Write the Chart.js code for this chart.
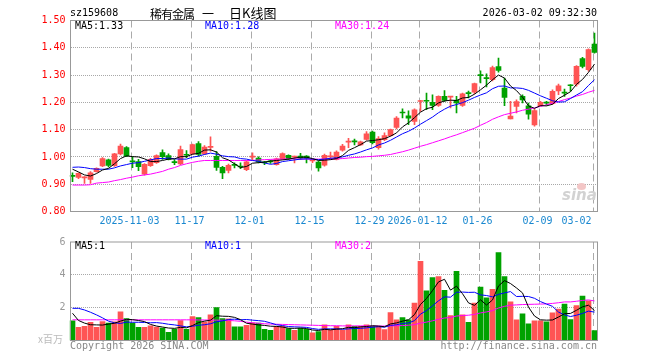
<!DOCTYPE html>
<html><head><meta charset="utf-8">
<script src="https://cdn.jsdelivr.net/npm/chart.js@4.4.1/dist/chart.umd.min.js"></script>
<style>
html,body{margin:0;padding:0;background:#fff;}
#wrap{position:relative;width:660px;height:360px;overflow:hidden;font-family:"DejaVu Sans Mono",monospace;font-size:10px;}
canvas{position:absolute;left:0;}
.t{position:absolute;white-space:pre;line-height:12px;}
.cn{position:absolute;white-space:pre;top:4px;font-family:'Noto Sans CJK SC';font-size:13px;line-height:17px;color:#000}
</style></head><body>
<div id="wrap">
<canvas id="k" width="660" height="232" style="top:0;width:660px;height:232px"></canvas>
<canvas id="v" width="660" height="128" style="top:232px;width:660px;height:128px"></canvas>
<div class="t" style="left:70px;top:7px;color:#000">sz159608</div>
<div class="cn" style="left:150px;font-size:12px;top:5px;letter-spacing:-1px">稀有金属</div>
<div class="cn" style="left:202px;font-size:12px;top:5px">一</div>
<div class="cn" style="left:229px">日K线图</div>
<div class="t" style="right:63px;top:7px;color:#000">2026-03-02 09:32:30</div>
<div class="t" style="left:75px;top:20px;color:#000">MA5:1.33</div>
<div class="t" style="left:205px;top:20px;color:#0000ff">MA10:1.28</div>
<div class="t" style="left:335px;top:20px;color:#ff00ff">MA30:1.24</div>
<div class="t" style="left:75px;top:240px;color:#000">MA5:1</div>
<div class="t" style="left:205px;top:240px;color:#0000ff">MA10:1</div>
<div class="t" style="left:335px;top:240px;color:#ff00ff">MA30:2</div>
<div class="t" style="left:38px;top:333px;color:#bbb;font-family:'Noto Sans CJK SC';font-size:10px;">x百万</div>
<div class="t" style="left:70px;top:340px;color:#888">Copyright 2026 SINA.COM</div>
<div class="t" style="right:63px;top:340px;color:#888">http://finance.sina.com.cn</div>
<div style="position:absolute;left:577px;top:183px;width:9px;height:7px;border-radius:50%;background:#f3c6c6"></div>
<div class="t" style="left:562px;top:186px;color:#d2d2d2;font-family:'DejaVu Sans';font-weight:bold;font-style:italic;font-size:15px;line-height:18px">sina</div>
</div>
<script>
const categories = [
'2025-10-20','2025-10-21','2025-10-22','2025-10-23','2025-10-24','2025-10-27','2025-10-28','2025-10-29','2025-10-30','2025-10-31',
'2025-11-03','2025-11-04','2025-11-05','2025-11-06','2025-11-07','2025-11-10','2025-11-11','2025-11-12','2025-11-13','2025-11-14',
'2025-11-17','2025-11-18','2025-11-19','2025-11-20','2025-11-21','2025-11-24','2025-11-25','2025-11-26','2025-11-27','2025-11-28',
'2025-12-01','2025-12-02','2025-12-03','2025-12-04','2025-12-05','2025-12-08','2025-12-09','2025-12-10','2025-12-11','2025-12-12',
'2025-12-15','2025-12-16','2025-12-17','2025-12-18','2025-12-19','2025-12-22','2025-12-23','2025-12-24','2025-12-25','2025-12-26',
'2025-12-29','2025-12-30','2025-12-31','2026-01-05','2026-01-06','2026-01-07','2026-01-08','2026-01-09',
'2026-01-12','2026-01-13','2026-01-14','2026-01-15','2026-01-16','2026-01-19','2026-01-20','2026-01-21','2026-01-22','2026-01-23',
'2026-01-26','2026-01-27','2026-01-28','2026-01-29','2026-01-30','2026-02-02','2026-02-03','2026-02-04','2026-02-05','2026-02-06',
'2026-02-09','2026-02-10','2026-02-11','2026-02-12','2026-02-13','2026-02-24','2026-02-25','2026-02-26','2026-02-27','2026-03-02'];
const tickDates = ['2025-11-03','2025-11-17','2025-12-01','2025-12-15','2025-12-29','2026-01-12','2026-01-26','2026-02-09','2026-03-02'];
const tickLabels = ['2025-11-03','11-17','12-01','12-15','12-29','2026-01-12','01-26','02-09','03-02     '];
const priceTicks = [0.8,0.9,1.0,1.1,1.2,1.3,1.4,1.5];
const volTicks = [0,2,4,6];

const open = [0.931,0.925,0.923,0.918,0.946,0.967,0.989,0.968,1.011,1.034,
0.984,0.983,0.937,0.968,0.979,1.016,1.005,0.981,0.974,1.007,
1.011,1.049,1.011,1.035,1.002,0.962,0.951,0.970,0.964,0.953,
0.999,0.996,0.979,0.983,0.972,0.992,1.006,0.999,1.003,1.003,
0.985,0.981,0.970,1.000,0.991,1.025,1.054,1.056,1.044,1.064,
1.091,1.034,1.063,1.078,1.108,1.162,1.151,1.130,1.203,1.205,
1.200,1.189,1.222,1.219,1.207,1.189,1.233,1.237,1.299,1.288,
1.283,1.331,1.252,1.139,1.185,1.222,1.187,1.117,1.188,1.198,
1.195,1.242,1.235,1.262,1.267,1.360,1.320,1.414];
const high = [0.942,0.942,0.928,0.946,0.960,0.998,0.992,1.013,1.047,1.038,
1.001,0.991,0.976,0.995,1.008,1.026,1.011,0.990,1.040,1.023,
1.047,1.056,1.042,1.074,1.020,0.966,0.974,0.978,0.978,0.986,
1.015,1.000,0.984,0.988,0.996,1.015,1.008,1.003,1.013,1.005,
0.991,0.985,1.010,1.018,1.022,1.046,1.068,1.065,1.058,1.093,
1.095,1.075,1.088,1.102,1.148,1.176,1.169,1.176,1.207,1.234,
1.228,1.224,1.243,1.222,1.222,1.234,1.241,1.271,1.316,1.305,
1.333,1.362,1.289,1.204,1.209,1.228,1.197,1.175,1.204,1.204,
1.246,1.267,1.249,1.265,1.335,1.365,1.396,1.454];
const low = [0.909,0.920,0.903,0.903,0.944,0.964,0.963,0.965,1.007,1.001,
0.961,0.950,0.933,0.965,0.976,0.991,0.989,0.972,0.972,0.997,
1.009,1.003,1.009,1.021,0.951,0.920,0.941,0.960,0.957,0.950,
0.990,0.978,0.972,0.976,0.970,0.990,0.990,0.978,0.991,0.978,
0.979,0.948,0.966,0.991,0.989,1.021,1.034,1.044,1.042,1.061,
1.048,1.028,1.060,1.076,1.103,1.143,1.118,1.118,1.167,1.173,
1.173,1.185,1.203,1.180,1.161,1.185,1.216,1.231,1.271,1.257,
1.279,1.311,1.188,1.139,1.161,1.198,1.138,1.113,1.186,1.190,
1.192,1.228,1.222,1.241,1.259,1.326,1.314,1.380];
const close = [0.929,0.940,0.925,0.942,0.958,0.994,0.969,1.011,1.040,1.004,
0.982,0.964,0.973,0.991,1.005,1.001,0.991,0.979,1.027,1.006,
1.045,1.009,1.036,1.036,0.962,0.941,0.969,0.969,0.963,0.982,
1.000,0.982,0.978,0.982,0.993,1.012,0.993,1.000,0.995,0.995,
0.986,0.960,1.006,1.001,1.018,1.040,1.055,1.055,1.055,1.085,
1.052,1.067,1.078,1.100,1.142,1.161,1.142,1.173,1.204,1.204,
1.189,1.222,1.207,1.220,1.198,1.231,1.232,1.269,1.298,1.287,
1.327,1.317,1.218,1.150,1.203,1.209,1.157,1.170,1.200,1.197,
1.240,1.261,1.234,1.261,1.332,1.332,1.393,1.383];
const ma5 = [0.955,0.945,0.934,0.930,0.939,0.952,0.958,0.975,0.994,1.004,
1.001,1.000,0.993,0.983,0.983,0.987,0.992,0.993,1.001,1.001,
1.010,1.013,1.025,1.026,1.018,0.997,0.989,0.975,0.961,0.965,
0.977,0.979,0.981,0.985,0.987,0.989,0.992,0.996,0.999,0.999,
0.994,0.987,0.988,0.990,0.994,1.005,1.024,1.034,1.045,1.058,
1.060,1.063,1.067,1.076,1.088,1.110,1.125,1.144,1.164,1.177,
1.182,1.198,1.205,1.208,1.207,1.216,1.218,1.230,1.246,1.263,
1.283,1.300,1.289,1.260,1.243,1.219,1.187,1.178,1.188,1.187,
1.193,1.214,1.226,1.239,1.266,1.284,1.310,1.340];
const ma10 = [0.962,0.963,0.961,0.957,0.955,0.955,0.955,0.960,0.967,0.972,
0.977,0.979,0.984,0.989,0.994,0.994,0.996,0.993,0.992,0.992,
0.999,1.003,1.009,1.014,1.010,1.004,1.001,1.000,0.994,0.992,
0.987,0.984,0.978,0.973,0.976,0.983,0.986,0.989,0.992,0.993,
0.992,0.990,0.992,0.995,0.997,1.000,1.006,1.011,1.018,1.026,
1.033,1.044,1.051,1.061,1.073,1.085,1.094,1.106,1.120,1.133,
1.146,1.162,1.175,1.186,1.192,1.199,1.208,1.218,1.227,1.235,
1.250,1.259,1.260,1.253,1.253,1.251,1.244,1.234,1.224,1.215,
1.206,1.201,1.202,1.214,1.227,1.239,1.262,1.283];
const ma30 = [0.897,0.897,0.897,0.898,0.904,0.906,0.908,0.913,0.917,0.922,
0.926,0.931,0.934,0.937,0.942,0.947,0.955,0.961,0.969,0.975,
0.980,0.984,0.987,0.987,0.987,0.987,0.987,0.987,0.987,0.987,
0.987,0.989,0.990,0.991,0.992,0.992,0.993,0.993,0.992,0.992,
0.992,0.992,0.992,0.993,0.993,0.994,0.996,0.998,0.999,1.001,
1.002,1.004,1.006,1.009,1.014,1.019,1.025,1.032,1.039,1.045,
1.052,1.059,1.066,1.074,1.081,1.089,1.097,1.105,1.116,1.126,
1.138,1.147,1.155,1.160,1.165,1.171,1.175,1.180,1.185,1.191,
1.197,1.203,1.210,1.216,1.223,1.229,1.237,1.244];
const volume = [1.20,0.80,0.86,1.10,0.80,1.16,1.06,1.14,1.74,1.34,
1.06,0.80,0.80,0.90,0.82,0.76,0.50,0.70,1.22,0.68,
1.46,1.40,1.12,1.56,2.00,1.34,1.32,0.84,0.84,0.92,
1.08,1.06,0.68,0.62,0.86,0.88,0.72,0.62,0.74,0.68,
0.46,0.54,0.96,0.62,0.86,0.62,0.96,0.86,0.86,0.96,
0.86,0.86,0.66,1.70,1.26,1.40,1.26,2.28,4.82,3.02,
3.84,3.90,3.06,1.52,4.22,1.56,1.10,2.28,3.26,2.60,
3.12,5.36,3.90,2.36,1.26,1.62,1.02,1.20,1.20,1.14,
1.68,1.92,2.22,1.28,2.12,2.70,2.42,0.60];
const vma5 = [1.66,1.22,1.06,0.96,0.95,0.94,1.00,1.05,1.18,1.29,
1.27,1.22,1.15,0.98,0.88,0.82,0.76,0.74,0.80,0.77,
0.91,1.09,1.18,1.24,1.51,1.48,1.47,1.41,1.27,1.05,
1.00,0.95,0.92,0.87,0.86,0.82,0.75,0.74,0.76,0.73,
0.64,0.61,0.68,0.65,0.69,0.72,0.80,0.78,0.83,0.85,
0.90,0.88,0.84,1.01,1.07,1.18,1.26,1.58,2.20,2.56,
3.04,3.57,3.73,3.07,3.31,2.85,2.29,2.14,2.48,2.16,
2.47,3.32,3.65,3.47,3.20,2.90,2.03,1.49,1.26,1.24,
1.25,1.43,1.63,1.65,1.84,2.05,2.15,1.82];
const vma10 = [1.96,1.96,1.86,1.72,1.56,1.38,1.18,1.08,1.04,1.12,
1.11,1.11,1.10,1.08,1.09,1.05,0.99,0.95,0.89,0.83,
0.87,0.93,0.96,1.02,1.14,1.20,1.28,1.30,1.26,1.28,
1.24,1.21,1.17,1.07,0.96,0.91,0.85,0.83,0.82,0.80,
0.73,0.68,0.71,0.71,0.71,0.68,0.71,0.73,0.74,0.77,
0.81,0.84,0.81,0.92,0.96,1.04,1.07,1.21,1.61,1.82,
2.11,2.42,2.66,2.64,2.94,2.95,2.93,2.94,2.78,2.74,
2.66,2.81,2.90,2.98,2.68,2.69,2.68,2.57,2.37,2.22,
2.08,1.73,1.56,1.46,1.54,1.65,1.79,1.73];
const vma30 = [1.26,1.26,1.26,1.26,1.26,1.26,1.26,1.26,1.26,1.26,
1.26,1.26,1.26,1.26,1.26,1.26,1.26,1.26,1.26,1.26,
1.26,1.25,1.25,1.24,1.24,1.23,1.22,1.20,1.17,1.12,
1.08,1.05,1.02,1.00,0.99,0.98,0.97,0.96,0.95,0.94,
0.93,0.92,0.91,0.90,0.90,0.89,0.89,0.89,0.89,0.89,
0.88,0.88,0.88,0.89,0.90,0.91,0.93,0.97,1.06,1.12,
1.20,1.29,1.37,1.40,1.49,1.52,1.54,1.59,1.68,1.74,
1.82,1.98,2.08,2.15,2.17,2.19,2.20,2.21,2.22,2.23,
2.26,2.30,2.35,2.35,2.39,2.44,2.47,2.41];

const UP = '#ff5454', DOWN = '#00a200';
const colors = categories.map((_, i) => close[i] >= open[i] ? UP : DOWN);
const tickIdx = tickDates.map(d => categories.indexOf(d));
const labelFor = {};
tickIdx.forEach((v, k) => { labelFor[v] = tickLabels[k]; });
const MONO = '"DejaVu Sans Mono", monospace';
const PLOT_L = 69.5, PLOT_R = 597.5;

function framePlugin(yValues) {
  return {
    id: 'frame',
    beforeDatasetsDraw(chart) {
      const { ctx, chartArea: a, scales: { x, y } } = chart;
      ctx.save();
      ctx.lineWidth = 1;
      ctx.strokeStyle = '#a8a8a8'; ctx.setLineDash([1, 1]);
      yValues.forEach(v => {
        const py = Math.round(y.getPixelForValue(v) - 0.5) + 0.5;
        ctx.beginPath(); ctx.moveTo(71, py); ctx.lineTo(597, py); ctx.stroke();
      });
      ctx.strokeStyle = '#aaaaaa'; ctx.setLineDash([7, 4]);
      tickIdx.forEach(i => {
        const px = Math.round(x.getPixelForValue(i) - 2) + 0.5;
        ctx.beginPath(); ctx.moveTo(px, a.top); ctx.lineTo(px, a.bottom); ctx.stroke();
      });
      ctx.restore();
    },
    afterDraw(chart) {
      const { ctx, chartArea: a } = chart;
      ctx.save();
      ctx.strokeStyle = '#999999'; ctx.lineWidth = 1; ctx.setLineDash([]);
      ctx.strokeRect(70.5, a.top, 527, a.bottom - a.top);
      ctx.restore();
    }
  };
}

function xAxis(showLabels) {
  return {
    type: 'category', offset: true,
    afterBuildTicks: s => { s.ticks = tickIdx.map(v => ({ value: v })); },
    afterFit: s => { s.height = showLabels ? 20.5 : 0; },
    grid: { display: false, drawTicks: false }, border: { display: false },
    ticks: { display: showLabels, autoSkip: false, maxRotation: 0, minRotation: 0, padding: 4, labelOffset: -3,
      color: '#1a88d0', font: { family: MONO, size: 10 }, callback: v => labelFor[v] }
  };
}
function line(data, color) {
  return { type: 'line', data, borderColor: color, borderWidth: 1, pointRadius: 0, tension: 0, order: 0, fill: false };
}

new Chart(document.getElementById('k'), {
  type: 'bar',
  data: {
    labels: categories,
    datasets: [
      line(ma5, '#000000'), line(ma10, '#0000ff'), line(ma30, '#ff00ff'),
      { type: 'bar', data: categories.map((_, i) => [open[i], close[i]]), backgroundColor: colors, barThickness: 5, grouped: false, minBarLength: 1, order: 1 },
      { type: 'bar', data: categories.map((_, i) => [low[i], high[i]]), backgroundColor: colors, barThickness: 1, grouped: false, order: 2 }
    ]
  },
  options: {
    responsive: false, animation: false, events: [],
    layout: { padding: { top: 20.5, right: 660 - PLOT_R, left: 0, bottom: 0 } },
    plugins: { legend: { display: false }, tooltip: { enabled: false } },
    scales: {
      x: xAxis(true),
      y: {
        min: 0.8, max: 1.5,
        afterBuildTicks: s => { s.ticks = priceTicks.map(v => ({ value: v })); },
        afterFit: s => { s.width = PLOT_L; },
        grid: { display: false, drawTicks: false }, border: { display: false },
        ticks: { padding: 4, color: '#ff0000', font: { family: MONO, size: 10 }, callback: v => v.toFixed(2) }
      }
    }
  },
  plugins: [framePlugin(priceTicks.slice(1, -1))]
});

new Chart(document.getElementById('v'), {
  type: 'bar',
  data: {
    labels: categories,
    datasets: [
      line(vma5, '#000000'), line(vma10, '#0000ff'), line(vma30, '#ff00ff'),
      { type: 'bar', data: volume, backgroundColor: colors, barThickness: 5, grouped: false, order: 1 }
    ]
  },
  options: {
    responsive: false, animation: false, events: [],
    layout: { padding: { top: 8.5, right: 660 - PLOT_R, left: 0, bottom: 19.5 } },
    plugins: { legend: { display: false }, tooltip: { enabled: false } },
    scales: {
      x: xAxis(false),
      y: {
        min: 0, max: 6,
        afterBuildTicks: s => { s.ticks = volTicks.map(v => ({ value: v })); },
        afterFit: s => { s.width = PLOT_L; },
        grid: { display: false, drawTicks: false }, border: { display: false },
        ticks: { padding: 4, color: '#999999', font: { family: MONO, size: 10 }, callback: v => v === 0 ? '' : String(v) }
      }
    }
  },
  plugins: [framePlugin([2, 4])]
});
</script>
</body></html>
